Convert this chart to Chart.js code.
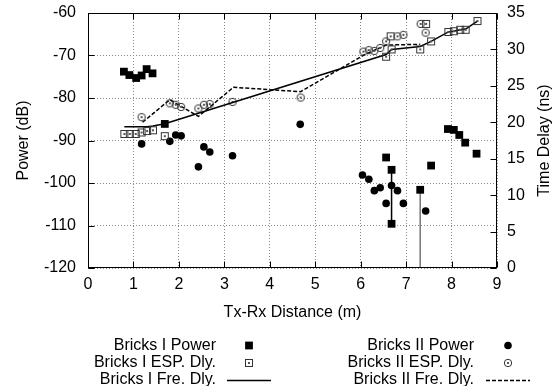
<!DOCTYPE html>
<html>
<head>
<meta charset="utf-8">
<style>
  html, body { margin: 0; padding: 0; background: #fff; }
  #wrap { width: 559px; height: 386px; }
</style>
<script src="https://cdn.jsdelivr.net/npm/chart.js@4.4.0/dist/chart.umd.min.js"></script>
</head>
<body>
<div id="wrap"><canvas id="c" width="559" height="386"></canvas></div>
<script>
// Axis ticks
const distTicks = [0, 1, 2, 3, 4, 5, 6, 7, 8, 9];
const powerTicks = [-120, -110, -100, -90, -80, -70, -60];
const delayTicks = [0, 5, 10, 15, 20, 25, 30, 35];

// Bricks I: received power (dB)
const brick1PowerX  = [0.79, 0.91, 1.06, 1.18, 1.29, 1.42, 1.69, 6.56, 6.68, 6.68, 7.31, 7.55, 7.92, 8.05, 8.17, 8.30, 8.55];
const brick1PowerDb = [-73.8, -74.6, -75.3, -74.7, -73.2, -74.2, -86.1, -94.0, -96.9, -109.6, -101.6, -95.9, -87.3, -87.5, -88.7, -90.5, -93.1];

// Bricks I: ESP delay (ns)
const brick1EspX  = [0.80, 0.92, 1.05, 1.18, 1.30, 1.43, 1.69, 6.56, 6.68, 6.66, 7.31, 7.44, 7.55, 7.93, 8.05, 8.19, 8.31, 8.57];
const brick1EspNs = [18.4, 18.4, 18.4, 18.6, 18.8, 18.9, 18.1, 29.0, 30.0, 31.8, 30.0, 33.5, 31.1, 32.4, 32.5, 32.7, 32.7, 33.9];

// Bricks I: free-space delay (ns)
const brick1FreX  = [0.80, 0.92, 1.05, 1.18, 1.30, 1.43, 1.69, 6.56, 6.68, 7.31, 7.55, 7.93, 8.05, 8.19, 8.31, 8.57];
const brick1FreNs = [19.4, 19.4, 19.4, 19.4, 19.4, 19.5, 19.8, 29.3, 30.0, 30.4, 31.1, 32.4, 32.5, 32.7, 32.8, 33.9];

// Bricks II: received power (dB)
const brick2PowerX  = [1.18, 1.80, 1.93, 2.05, 2.43, 2.55, 2.68, 3.18, 4.67, 6.04, 6.18, 6.30, 6.43, 6.56, 6.68, 6.81, 6.94, 7.43];
const brick2PowerDb = [-90.8, -90.2, -88.7, -88.9, -96.2, -91.5, -92.7, -93.6, -86.2, -98.1, -99.1, -101.8, -101.1, -104.8, -100.6, -101.8, -104.8, -106.6];

// Bricks II: ESP delay (ns)
const brick2EspX  = [1.18, 1.80, 1.93, 2.05, 2.43, 2.55, 2.68, 3.18, 4.68, 6.06, 6.18, 6.30, 6.43, 6.56, 6.81, 6.94, 7.32, 7.43];
const brick2EspNs = [20.7, 22.6, 22.4, 22.1, 21.9, 22.4, 22.5, 22.8, 23.4, 29.7, 29.9, 29.8, 30.2, 31.1, 31.8, 32.0, 33.5, 32.3];

// Bricks II: free-space delay (ns)
const brick2FreX  = [1.20, 1.80, 2.43, 3.20, 4.68, 6.06, 6.56, 7.31];
const brick2FreNs = [20.0, 23.1, 20.8, 24.8, 24.2, 29.2, 30.6, 30.7];

// Vertical power spans
const spanX        = [6.68, 7.31];
const spanTopDb    = [-96.9, -101.6];
const spanBottomDb = [-109.6, -120];

const FONT = '"Liberation Sans", Arial, Helvetica, sans-serif';

function pts(xs, ys) { return xs.map((x, i) => ({ x: x, y: ys[i] })); }

// Open markers with a centre dot
function openMarker(shape) {
  const c = document.createElement('canvas');
  c.width = 10; c.height = 10;
  const g = c.getContext('2d');
  g.strokeStyle = '#333';
  g.lineWidth = 1;
  if (shape === 'square') {
    g.strokeRect(1.5, 1.5, 7, 7);
  } else {
    g.beginPath(); g.arc(5, 5, 3.7, 0, Math.PI * 2); g.stroke();
  }
  g.fillStyle = '#555';
  g.fillRect(4, 4, 2, 2);
  return c;
}
const squareDot = openMarker('square');
const circleDot = openMarker('circle');

const datasets = [
  { label: 'Bricks I Power', data: pts(brick1PowerX, brick1PowerDb), yAxisID: 'y',
    showLine: false, pointStyle: 'rect', pointRadius: 5.5, backgroundColor: '#000', borderWidth: 0 },
  { label: 'Bricks I ESP. Dly.', data: pts(brick1EspX, brick1EspNs), yAxisID: 'y2',
    showLine: false, pointStyle: squareDot, pointRadius: 5 },
  { label: 'Bricks I Fre. Dly.', data: pts(brick1FreX, brick1FreNs), yAxisID: 'y2',
    showLine: true, borderColor: '#000', borderWidth: 1.5, pointRadius: 0, tension: 0 },
  { label: 'Bricks II Power', data: pts(brick2PowerX, brick2PowerDb), yAxisID: 'y',
    showLine: false, pointStyle: 'circle', pointRadius: 3.8, backgroundColor: '#000', borderWidth: 0 },
  { label: 'Bricks II ESP. Dly.', data: pts(brick2EspX, brick2EspNs), yAxisID: 'y2',
    showLine: false, pointStyle: circleDot, pointRadius: 5 },
  { label: 'Bricks II Fre. Dly.', data: pts(brick2FreX, brick2FreNs), yAxisID: 'y2',
    showLine: true, borderColor: '#000', borderWidth: 1.5, borderDash: [4, 2], pointRadius: 0, tension: 0 },
  { label: 'span1', data: [{ x: spanX[0], y: spanTopDb[0] }, { x: spanX[0], y: spanBottomDb[0] }], yAxisID: 'y',
    showLine: true, borderColor: '#000', borderWidth: 1.5, pointRadius: 0 },
  { label: 'span2', data: [{ x: spanX[1], y: spanTopDb[1] }, { x: spanX[1], y: spanBottomDb[1] }], yAxisID: 'y',
    showLine: true, borderColor: '#777', borderWidth: 1.5, pointRadius: 0 }
];

// Legend layout: two columns, text right-aligned before the sample
const legendItems = [
  { ds: 0, textRight: 216, sample: 249, row: 0 },
  { ds: 1, textRight: 216, sample: 249, row: 1 },
  { ds: 2, textRight: 216, sample: 249, row: 2 },
  { ds: 3, textRight: 474, sample: 508, row: 0 },
  { ds: 4, textRight: 474, sample: 508, row: 1 },
  { ds: 5, textRight: 474, sample: 508, row: 2 }
];
const legendRows = [345.5, 363, 380];

const framePlugin = {
  id: 'frame',
  afterDraw(chart) {
    const { ctx, chartArea: a, scales } = chart;
    const L = Math.round(a.left) + 0.5, R = Math.round(a.right) - 0.5;
    const T = Math.round(a.top) + 0.5, B = Math.round(a.bottom) - 0.5;
    ctx.save();
    ctx.strokeStyle = '#000';
    ctx.lineWidth = 1;
    ctx.setLineDash([]);
    ctx.beginPath();
    // inward tick marks
    const tl = 6;
    distTicks.forEach(v => {
      const px = Math.round(scales.x.getPixelForValue(v)) + 0.5;
      ctx.moveTo(px, B); ctx.lineTo(px, B - tl);
      ctx.moveTo(px, T); ctx.lineTo(px, T + tl);
    });
    powerTicks.forEach(v => {
      const py = Math.round(scales.y.getPixelForValue(v)) + 0.5;
      ctx.moveTo(L, py); ctx.lineTo(L + tl, py);
    });
    delayTicks.forEach(v => {
      const py = Math.round(scales.y2.getPixelForValue(v)) + 0.5;
      ctx.moveTo(R, py); ctx.lineTo(R - tl, py);
    });
    ctx.stroke();
    ctx.strokeRect(L, T, R - L, B - T);

    // axis titles
    ctx.fillStyle = '#000';
    ctx.font = '16px ' + FONT;
    ctx.textAlign = 'center';
    ctx.textBaseline = 'middle';
    ctx.fillText('Tx-Rx Distance (m)', (a.left + a.right) / 2, 313);
    const midY = (a.top + a.bottom) / 2;
    ctx.save(); ctx.translate(24, midY); ctx.rotate(-Math.PI / 2);
    ctx.fillText('Power (dB)', 0, 0); ctx.restore();
    ctx.save(); ctx.translate(545, midY); ctx.rotate(-Math.PI / 2);
    ctx.fillText('Time Delay (ns)', 0, 0); ctx.restore();

    // legend
    legendItems.forEach(it => {
      const d = chart.data.datasets[it.ds];
      const y = legendRows[it.row];
      ctx.fillStyle = '#000';
      ctx.textAlign = 'right';
      ctx.fillText(d.label, it.textRight, y);
      if (d.showLine) {
        ctx.save();
        ctx.strokeStyle = d.borderColor;
        ctx.lineWidth = d.borderWidth;
        ctx.setLineDash(d.borderDash || []);
        ctx.beginPath();
        ctx.moveTo(it.sample - 22, Math.round(y) + 0.5);
        ctx.lineTo(it.sample + 22, Math.round(y) + 0.5);
        ctx.stroke();
        ctx.restore();
      } else if (d.pointStyle === 'rect') {
        const s = d.pointRadius * Math.SQRT1_2;
        ctx.fillRect(it.sample - s, y - s, 2 * s, 2 * s);
      } else if (d.pointStyle === 'circle') {
        ctx.beginPath(); ctx.arc(it.sample, y, d.pointRadius, 0, Math.PI * 2); ctx.fill();
      } else {
        const img = d.pointStyle;
        ctx.drawImage(img, Math.round(it.sample - img.width / 2), Math.round(y - img.height / 2));
      }
    });
    ctx.restore();
  }
};

const gridStyle = { color: '#888', lineWidth: 1, drawTicks: false };
const tickFont = { family: FONT, size: 16 };

// fixed box sizes so the plot frame sits at a known place
function fixH(h) { return s => { s.height = h; s.paddingLeft = 0; s.paddingRight = 0; }; }
function fixW(w) { return s => { s.width = w; s.paddingTop = 0; s.paddingBottom = 0; }; }

new Chart(document.getElementById('c'), {
  type: 'scatter',
  data: { datasets: datasets },
  options: {
    responsive: false,
    animation: false,
    events: [],
    layout: { padding: { top: 13, left: 0, right: 0, bottom: 0 }, autoPadding: false },
    plugins: { legend: { display: false }, tooltip: { enabled: false } },
    scales: {
      x: {
        type: 'linear', position: 'bottom', min: 0, max: 9,
        afterBuildTicks: s => { s.ticks = distTicks.map(v => ({ value: v })); },
        ticks: { font: tickFont, color: '#000', padding: 7 },
        grid: gridStyle,
        border: { display: false, dash: [1, 2] },
        afterFit: fixH(118)
      },
      y: {
        type: 'linear', position: 'left', min: -120, max: -60,
        afterBuildTicks: s => { s.ticks = powerTicks.map(v => ({ value: v })); },
        ticks: { font: tickFont, color: '#000', padding: 12 },
        grid: gridStyle,
        border: { display: false, dash: [1, 2] },
        afterFit: fixW(88)
      },
      y2: {
        type: 'linear', position: 'right', min: 0, max: 35,
        afterBuildTicks: s => { s.ticks = delayTicks.map(v => ({ value: v })); },
        ticks: { font: tickFont, color: '#000', padding: 10 },
        grid: { display: false, drawTicks: false },
        border: { display: false },
        afterFit: fixW(62)
      }
    }
  },
  plugins: [framePlugin]
});
</script>
</body>
</html>
